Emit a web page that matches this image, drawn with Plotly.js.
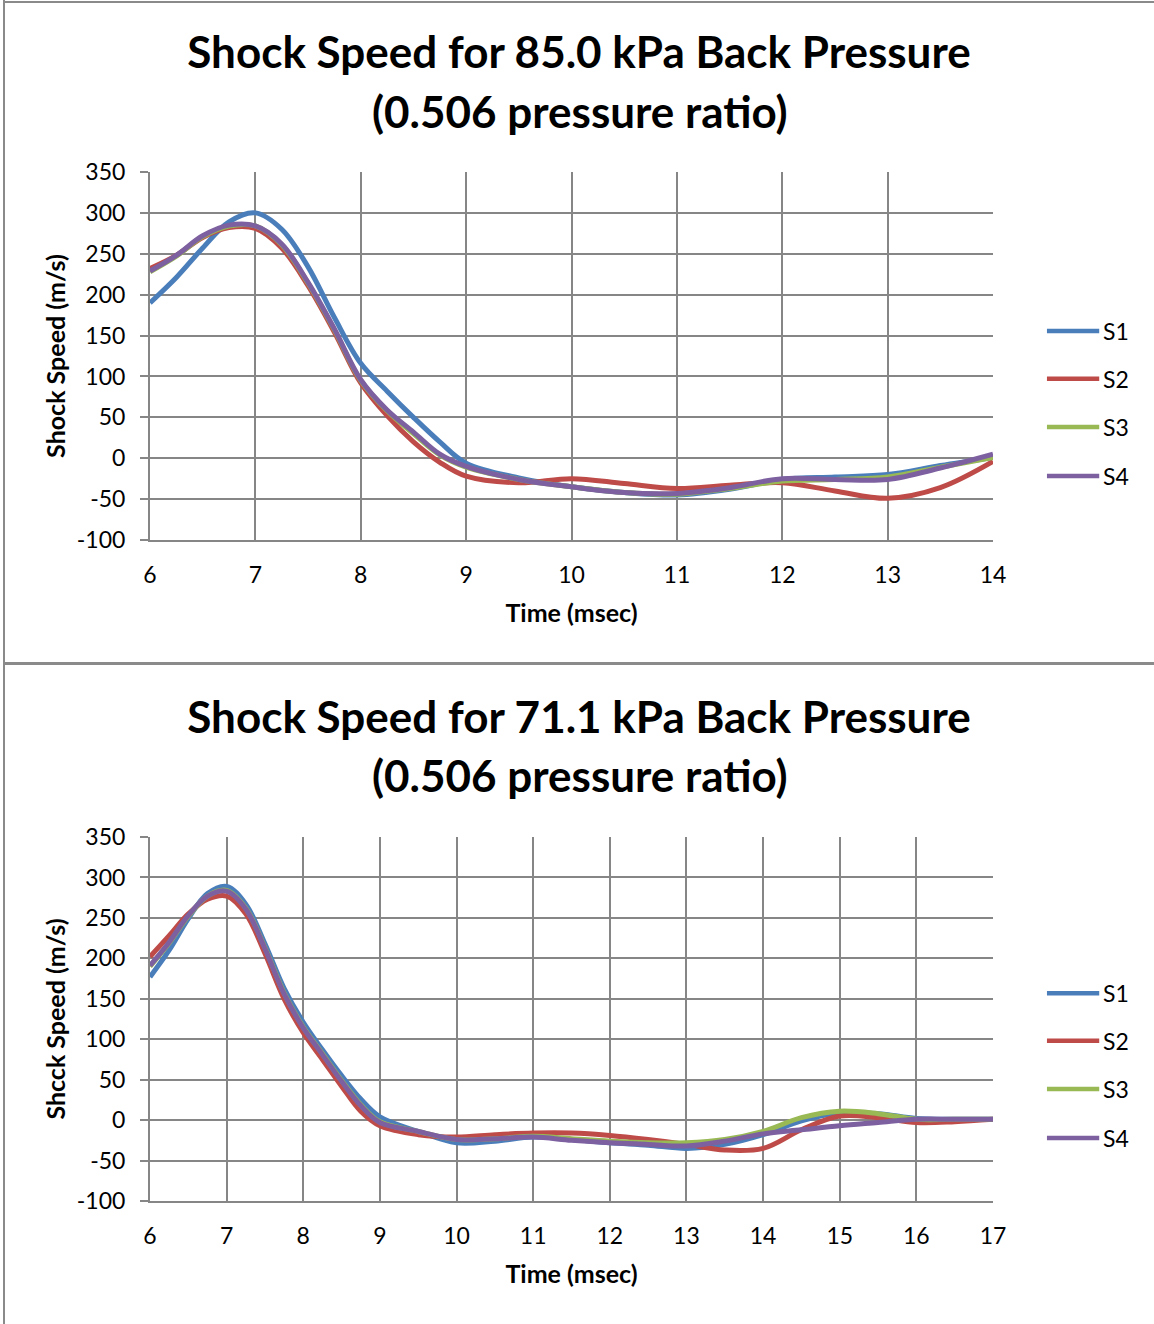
<!DOCTYPE html>
<html>
<head>
<meta charset="utf-8">
<script src="https://cdn.plot.ly/plotly-3.0.1.min.js"></script>
<style>
  html, body { margin: 0; padding: 0; background: #ffffff; }
  #wrap { position: relative; width: 1154px; height: 1324px; overflow: hidden; }
  #chart1 { position: absolute; left: 0; top: 0; width: 1154px; height: 663px; }
  #chart2 { position: absolute; left: 0; top: 665px; width: 1154px; height: 659px; }
  .bline { position: absolute; background: #8a8a8a; }
</style>
</head>
<body>
<div id="wrap">
  <div id="chart1"></div>
  <div id="chart2"></div>
  <div class="bline" style="left:3px; top:0; width:1.5px; height:1324px;"></div>
  <div class="bline" style="left:3px; top:1px; width:1151px; height:1.5px;"></div>
  <div class="bline" style="left:3px; top:662px; width:1151px; height:3px;"></div>
</div>
<script>
// ---------- DATA ----------
const seriesNames = ['S1', 'S2', 'S3', 'S4'];
const seriesColors = ['#4A7EBB', '#BE4B48', '#98B954', '#7D60A0'];

// Chart 1: 85.0 kPa back pressure
const time1 = [6, 6.25, 6.5, 6.75, 7, 7.25, 7.5, 7.75, 8, 8.25, 8.5, 8.75, 9, 9.5, 10, 10.5, 11, 11.5, 12, 12.5, 13, 13.5, 14];
const c1S1 = [190, 221, 257, 289, 300, 280, 234, 172, 116, 82, 50, 20, -6, -24, -35, -42, -45, -38, -26, -23, -20, -9, 1];
const c1S2 = [232, 248, 270, 282, 281, 257, 211, 154, 92, 52, 20, -5, -22, -30, -25, -31, -37, -33, -30, -40, -49, -36, -4];
const c1S3 = [228, 247, 271, 284, 284, 261, 214, 157, 95, 58, 30, 4, -11, -26, -35, -42, -44, -37, -28, -26, -23, -11, 1];
const c1S4 = [229, 248, 272, 285, 284, 262, 215, 158, 96, 59, 32, 5, -10, -26, -35, -42, -43, -36, -25, -26, -26, -12, 5];

// Chart 2: 71.1 kPa back pressure
const time2 = [6, 6.25, 6.5, 6.75, 7, 7.25, 7.5, 7.75, 8, 8.25, 8.5, 8.75, 9, 9.5, 10, 10.5, 11, 11.5, 12, 12.5, 13, 13.5, 14, 14.5, 15, 15.5, 16, 16.5, 17];
const c2S1 = [177, 210, 249, 280, 289, 267, 218, 163, 121, 87, 55, 26, 4, -14, -28, -26, -21, -24, -28, -31, -35, -30, -18, -1, 9, 8, 2, 1, 1];
const c2S2 = [202, 228, 255, 273, 277, 255, 206, 150, 108, 75, 42, 11, -7, -18, -21, -18, -16, -16, -19, -24, -30, -37, -35, -12, 5, 3, -3, -2, 1];
const c2S3 = [190, 219, 252, 277, 284, 262, 213, 157, 115, 82, 49, 19, -2, -14, -24, -23, -20, -23, -26, -28, -28, -24, -14, 3, 11, 8, 1, 1, 1];
const c2S4 = [191, 220, 253, 277, 283, 261, 212, 156, 114, 81, 48, 18, -3, -14, -24, -23, -21, -25, -28, -30, -32, -26, -17, -12, -7, -3, 1, 1, 1];

const title1Lines = ['Shock Speed for 85.0 kPa Back Pressure', '(0.506 pressure ratio)'];
const title2Lines = ['Shock Speed for 71.1 kPa Back Pressure', '(0.506 pressure ratio)'];
const xTitle = 'Time (msec)';
const yTitle1 = 'Shock Speed (m/s)';
const yTitle2 = 'Shcck Speed (m/s)';
const yTickVals = [-100, -50, 0, 50, 100, 150, 200, 250, 300, 350];
const yTickText = ['-100', '-50', '0', '50', '100', '150', '200', '250', '300', '350'];

// ---------- BUILD ----------
const FONT = 'Lato, "Open Sans", sans-serif';
const GRID = '#868686';

function makeChart(div, height, time, series, titleLines, yTitle, xMax, legendY, line2Y) {
  const traces = series.map((ys, i) => ({
    x: time, y: ys, type: 'scatter', mode: 'lines', name: seriesNames[i],
    line: { color: seriesColors[i], width: 5, shape: 'spline', smoothing: 1.0 },
    showlegend: false, hoverinfo: 'skip'
  }));
  const shapes = [];
  const annotations = [];
  seriesNames.forEach((n, i) => {
    shapes.push({ type: 'line', xref: 'paper', yref: 'paper',
      x0: 1.064, x1: 1.126, y0: legendY[i], y1: legendY[i],
      line: { color: seriesColors[i], width: 4.5 } });
    annotations.push({ xref: 'paper', yref: 'paper', x: 1.128, y: legendY[i],
      xanchor: 'left', yanchor: 'middle', text: n, showarrow: false,
      font: { family: FONT, size: 23, color: '#000' } });
  });
  // second title line
  annotations.push({ xref: 'paper', yref: 'paper', x: 0.5095, y: line2Y,
    xanchor: 'center', yanchor: 'middle', text: titleLines[1], showarrow: false,
    font: { family: FONT, size: 44, weight: 'bold', color: '#000' } });
  const layout = {
    width: 1154, height: height,
    margin: { l: 150, r: 161, t: 172, b: height - 172 - (height === 663 ? 368 : 364) },
    paper_bgcolor: 'rgba(0,0,0,0)', plot_bgcolor: '#ffffff',
    font: { family: FONT, color: '#000' },
    title: { text: titleLines[0], font: { family: FONT, size: 44, weight: 'bold', color: '#000' },
      x: 579 / 1154, xref: 'container', xanchor: 'center', y: 1 - 53 / height, yref: 'container', yanchor: 'middle' },
    xaxis: {
      range: [6, xMax], dtick: 1, tick0: 6, showgrid: true, gridcolor: GRID, gridwidth: 2,
      zeroline: false, showline: true, linecolor: GRID, linewidth: 2,
      ticks: '', ticklabelstandoff: 13,
      tickfont: { family: FONT, size: 23, color: '#000' },
      title: { text: xTitle, font: { family: FONT, size: 25, weight: 'bold', color: '#000' }, standoff: 18 }
    },
    yaxis: {
      range: [-100, 350], tickmode: 'array', tickvals: yTickVals, ticktext: yTickText,
      showgrid: true, gridcolor: GRID, gridwidth: 2,
      zeroline: false, showline: true, linecolor: GRID, linewidth: 2,
      ticks: 'outside', ticklen: 8, tickwidth: 2, tickcolor: GRID, ticklabelstandoff: 10,
      tickfont: { family: FONT, size: 23, color: '#000' },
      title: { text: yTitle, font: { family: FONT, size: 25, weight: 'bold', color: '#000' }, standoff: 4 }
    },
    shapes: shapes,
    annotations: annotations
  };
  Plotly.newPlot(div, traces, layout, { staticPlot: true, displayModeBar: false });
}

makeChart('chart1', 663, time1, [c1S1, c1S2, c1S3, c1S4], title1Lines, yTitle1, 14,
  [0.568, 0.438, 0.307, 0.174], (540 - 111) / 368);
makeChart('chart2', 659, time2, [c2S1, c2S2, c2S3, c2S4], title2Lines, yTitle2, 17,
  [0.571, 0.440, 0.308, 0.173], (536 - 110) / 364);
</script>
</body>
</html>
